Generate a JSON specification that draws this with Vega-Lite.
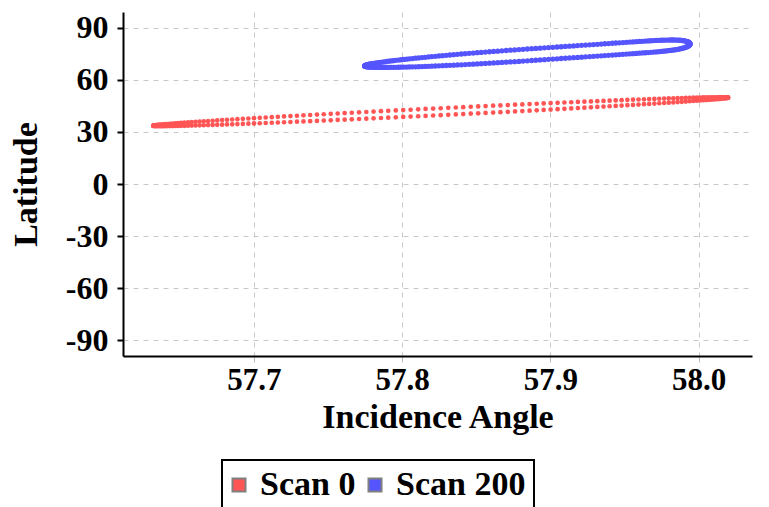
{
"$schema": "https://vega.github.io/schema/vega-lite/v6.json",
"width": 629, "height": 344,
"autosize": {"type": "none"},
"padding": {"left": 123, "top": 12, "right": 17, "bottom": 151},
"background": "white",
"config": {"view": {"stroke": null}, "font": "Liberation Serif"},
"data": {"values": [
{"scan":"Scan 0","x":58.0200,"y":49.80},{"scan":"Scan 0","x":57.6320,"y":33.60},
{"scan":"Scan 0","x":58.0199,"y":49.85},{"scan":"Scan 0","x":58.0199,"y":49.75},{"scan":"Scan 0","x":57.6321,"y":33.65},{"scan":"Scan 0","x":57.6321,"y":33.55},
{"scan":"Scan 0","x":58.0197,"y":49.89},{"scan":"Scan 0","x":58.0197,"y":49.69},{"scan":"Scan 0","x":57.6323,"y":33.71},{"scan":"Scan 0","x":57.6323,"y":33.51},
{"scan":"Scan 0","x":58.0194,"y":49.94},{"scan":"Scan 0","x":58.0194,"y":49.62},{"scan":"Scan 0","x":57.6326,"y":33.78},{"scan":"Scan 0","x":57.6326,"y":33.46},
{"scan":"Scan 0","x":58.0189,"y":49.97},{"scan":"Scan 0","x":58.0189,"y":49.55},{"scan":"Scan 0","x":57.6331,"y":33.85},{"scan":"Scan 0","x":57.6331,"y":33.43},
{"scan":"Scan 0","x":58.0183,"y":49.99},{"scan":"Scan 0","x":58.0183,"y":49.47},{"scan":"Scan 0","x":57.6337,"y":33.93},{"scan":"Scan 0","x":57.6337,"y":33.41},
{"scan":"Scan 0","x":58.0176,"y":50.01},{"scan":"Scan 0","x":58.0176,"y":49.39},{"scan":"Scan 0","x":57.6344,"y":34.01},{"scan":"Scan 0","x":57.6344,"y":33.39},
{"scan":"Scan 0","x":58.0168,"y":50.02},{"scan":"Scan 0","x":58.0168,"y":49.30},{"scan":"Scan 0","x":57.6352,"y":34.10},{"scan":"Scan 0","x":57.6352,"y":33.38},
{"scan":"Scan 0","x":58.0158,"y":50.04},{"scan":"Scan 0","x":58.0158,"y":49.20},{"scan":"Scan 0","x":57.6362,"y":34.20},{"scan":"Scan 0","x":57.6362,"y":33.36},
{"scan":"Scan 0","x":58.0146,"y":50.05},{"scan":"Scan 0","x":58.0146,"y":49.11},{"scan":"Scan 0","x":57.6374,"y":34.29},{"scan":"Scan 0","x":57.6374,"y":33.35},
{"scan":"Scan 0","x":58.0134,"y":50.04},{"scan":"Scan 0","x":58.0134,"y":49.00},{"scan":"Scan 0","x":57.6386,"y":34.40},{"scan":"Scan 0","x":57.6386,"y":33.36},
{"scan":"Scan 0","x":58.0120,"y":50.04},{"scan":"Scan 0","x":58.0120,"y":48.90},{"scan":"Scan 0","x":57.6400,"y":34.50},{"scan":"Scan 0","x":57.6400,"y":33.36},
{"scan":"Scan 0","x":58.0105,"y":50.02},{"scan":"Scan 0","x":58.0105,"y":48.78},{"scan":"Scan 0","x":57.6415,"y":34.62},{"scan":"Scan 0","x":57.6415,"y":33.38},
{"scan":"Scan 0","x":58.0089,"y":50.01},{"scan":"Scan 0","x":58.0089,"y":48.67},{"scan":"Scan 0","x":57.6431,"y":34.73},{"scan":"Scan 0","x":57.6431,"y":33.39},
{"scan":"Scan 0","x":58.0071,"y":49.98},{"scan":"Scan 0","x":58.0071,"y":48.54},{"scan":"Scan 0","x":57.6449,"y":34.86},{"scan":"Scan 0","x":57.6449,"y":33.42},
{"scan":"Scan 0","x":58.0052,"y":49.95},{"scan":"Scan 0","x":58.0052,"y":48.41},{"scan":"Scan 0","x":57.6468,"y":34.99},{"scan":"Scan 0","x":57.6468,"y":33.45},
{"scan":"Scan 0","x":58.0032,"y":49.91},{"scan":"Scan 0","x":58.0032,"y":48.29},{"scan":"Scan 0","x":57.6488,"y":35.11},{"scan":"Scan 0","x":57.6488,"y":33.49},
{"scan":"Scan 0","x":58.0011,"y":49.87},{"scan":"Scan 0","x":58.0011,"y":48.15},{"scan":"Scan 0","x":57.6509,"y":35.25},{"scan":"Scan 0","x":57.6509,"y":33.53},
{"scan":"Scan 0","x":57.9989,"y":49.83},{"scan":"Scan 0","x":57.9989,"y":48.01},{"scan":"Scan 0","x":57.6531,"y":35.39},{"scan":"Scan 0","x":57.6531,"y":33.57},
{"scan":"Scan 0","x":57.9965,"y":49.77},{"scan":"Scan 0","x":57.9965,"y":47.87},{"scan":"Scan 0","x":57.6555,"y":35.53},{"scan":"Scan 0","x":57.6555,"y":33.63},
{"scan":"Scan 0","x":57.9940,"y":49.71},{"scan":"Scan 0","x":57.9940,"y":47.71},{"scan":"Scan 0","x":57.6580,"y":35.69},{"scan":"Scan 0","x":57.6580,"y":33.69},
{"scan":"Scan 0","x":57.9914,"y":49.66},{"scan":"Scan 0","x":57.9914,"y":47.56},{"scan":"Scan 0","x":57.6606,"y":35.84},{"scan":"Scan 0","x":57.6606,"y":33.74},
{"scan":"Scan 0","x":57.9887,"y":49.58},{"scan":"Scan 0","x":57.9887,"y":47.40},{"scan":"Scan 0","x":57.6633,"y":36.00},{"scan":"Scan 0","x":57.6633,"y":33.82},
{"scan":"Scan 0","x":57.9859,"y":49.51},{"scan":"Scan 0","x":57.9859,"y":47.25},{"scan":"Scan 0","x":57.6661,"y":36.15},{"scan":"Scan 0","x":57.6661,"y":33.89},
{"scan":"Scan 0","x":57.9830,"y":49.43},{"scan":"Scan 0","x":57.9830,"y":47.07},{"scan":"Scan 0","x":57.6690,"y":36.33},{"scan":"Scan 0","x":57.6690,"y":33.97},
{"scan":"Scan 0","x":57.9799,"y":49.35},{"scan":"Scan 0","x":57.9799,"y":46.91},{"scan":"Scan 0","x":57.6721,"y":36.49},{"scan":"Scan 0","x":57.6721,"y":34.05},
{"scan":"Scan 0","x":57.9768,"y":49.25},{"scan":"Scan 0","x":57.9768,"y":46.73},{"scan":"Scan 0","x":57.6752,"y":36.67},{"scan":"Scan 0","x":57.6752,"y":34.15},
{"scan":"Scan 0","x":57.9735,"y":49.16},{"scan":"Scan 0","x":57.9735,"y":46.56},{"scan":"Scan 0","x":57.6785,"y":36.84},{"scan":"Scan 0","x":57.6785,"y":34.24},
{"scan":"Scan 0","x":57.9702,"y":49.06},{"scan":"Scan 0","x":57.9702,"y":46.38},{"scan":"Scan 0","x":57.6818,"y":37.02},{"scan":"Scan 0","x":57.6818,"y":34.34},
{"scan":"Scan 0","x":57.9667,"y":48.96},{"scan":"Scan 0","x":57.9667,"y":46.20},{"scan":"Scan 0","x":57.6853,"y":37.20},{"scan":"Scan 0","x":57.6853,"y":34.44},
{"scan":"Scan 0","x":57.9632,"y":48.84},{"scan":"Scan 0","x":57.9632,"y":46.02},{"scan":"Scan 0","x":57.6888,"y":37.38},{"scan":"Scan 0","x":57.6888,"y":34.56},
{"scan":"Scan 0","x":57.9595,"y":48.73},{"scan":"Scan 0","x":57.9595,"y":45.83},{"scan":"Scan 0","x":57.6925,"y":37.57},{"scan":"Scan 0","x":57.6925,"y":34.67},
{"scan":"Scan 0","x":57.9558,"y":48.61},{"scan":"Scan 0","x":57.9558,"y":45.63},{"scan":"Scan 0","x":57.6962,"y":37.77},{"scan":"Scan 0","x":57.6962,"y":34.79},
{"scan":"Scan 0","x":57.9520,"y":48.48},{"scan":"Scan 0","x":57.9520,"y":45.44},{"scan":"Scan 0","x":57.7000,"y":37.96},{"scan":"Scan 0","x":57.7000,"y":34.92},
{"scan":"Scan 0","x":57.9481,"y":48.35},{"scan":"Scan 0","x":57.9481,"y":45.25},{"scan":"Scan 0","x":57.7039,"y":38.15},{"scan":"Scan 0","x":57.7039,"y":35.05},
{"scan":"Scan 0","x":57.9441,"y":48.22},{"scan":"Scan 0","x":57.9441,"y":45.04},{"scan":"Scan 0","x":57.7079,"y":38.36},{"scan":"Scan 0","x":57.7079,"y":35.18},
{"scan":"Scan 0","x":57.9400,"y":48.08},{"scan":"Scan 0","x":57.9400,"y":44.84},{"scan":"Scan 0","x":57.7120,"y":38.56},{"scan":"Scan 0","x":57.7120,"y":35.32},
{"scan":"Scan 0","x":57.9359,"y":47.94},{"scan":"Scan 0","x":57.9359,"y":44.64},{"scan":"Scan 0","x":57.7161,"y":38.76},{"scan":"Scan 0","x":57.7161,"y":35.46},
{"scan":"Scan 0","x":57.9317,"y":47.79},{"scan":"Scan 0","x":57.9317,"y":44.43},{"scan":"Scan 0","x":57.7203,"y":38.97},{"scan":"Scan 0","x":57.7203,"y":35.61},
{"scan":"Scan 0","x":57.9274,"y":47.64},{"scan":"Scan 0","x":57.9274,"y":44.22},{"scan":"Scan 0","x":57.7246,"y":39.18},{"scan":"Scan 0","x":57.7246,"y":35.76},
{"scan":"Scan 0","x":57.9230,"y":47.48},{"scan":"Scan 0","x":57.9230,"y":44.02},{"scan":"Scan 0","x":57.7290,"y":39.38},{"scan":"Scan 0","x":57.7290,"y":35.92},
{"scan":"Scan 0","x":57.9186,"y":47.33},{"scan":"Scan 0","x":57.9186,"y":43.81},{"scan":"Scan 0","x":57.7334,"y":39.59},{"scan":"Scan 0","x":57.7334,"y":36.07},
{"scan":"Scan 0","x":57.9141,"y":47.16},{"scan":"Scan 0","x":57.9141,"y":43.60},{"scan":"Scan 0","x":57.7379,"y":39.80},{"scan":"Scan 0","x":57.7379,"y":36.24},
{"scan":"Scan 0","x":57.9095,"y":47.00},{"scan":"Scan 0","x":57.9095,"y":43.38},{"scan":"Scan 0","x":57.7425,"y":40.02},{"scan":"Scan 0","x":57.7425,"y":36.40},
{"scan":"Scan 0","x":57.9049,"y":46.82},{"scan":"Scan 0","x":57.9049,"y":43.16},{"scan":"Scan 0","x":57.7471,"y":40.24},{"scan":"Scan 0","x":57.7471,"y":36.58},
{"scan":"Scan 0","x":57.9002,"y":46.65},{"scan":"Scan 0","x":57.9002,"y":42.95},{"scan":"Scan 0","x":57.7518,"y":40.45},{"scan":"Scan 0","x":57.7518,"y":36.75},
{"scan":"Scan 0","x":57.8955,"y":46.47},{"scan":"Scan 0","x":57.8955,"y":42.73},{"scan":"Scan 0","x":57.7565,"y":40.67},{"scan":"Scan 0","x":57.7565,"y":36.93},
{"scan":"Scan 0","x":57.8908,"y":46.29},{"scan":"Scan 0","x":57.8908,"y":42.51},{"scan":"Scan 0","x":57.7612,"y":40.89},{"scan":"Scan 0","x":57.7612,"y":37.11},
{"scan":"Scan 0","x":57.8860,"y":46.10},{"scan":"Scan 0","x":57.8860,"y":42.30},{"scan":"Scan 0","x":57.7660,"y":41.10},{"scan":"Scan 0","x":57.7660,"y":37.30},
{"scan":"Scan 0","x":57.8811,"y":45.92},{"scan":"Scan 0","x":57.8811,"y":42.08},{"scan":"Scan 0","x":57.7709,"y":41.32},{"scan":"Scan 0","x":57.7709,"y":37.48},
{"scan":"Scan 0","x":57.8762,"y":45.73},{"scan":"Scan 0","x":57.8762,"y":41.87},{"scan":"Scan 0","x":57.7758,"y":41.53},{"scan":"Scan 0","x":57.7758,"y":37.67},
{"scan":"Scan 0","x":57.8713,"y":45.53},{"scan":"Scan 0","x":57.8713,"y":41.65},{"scan":"Scan 0","x":57.7807,"y":41.75},{"scan":"Scan 0","x":57.7807,"y":37.87},
{"scan":"Scan 0","x":57.8663,"y":45.34},{"scan":"Scan 0","x":57.8663,"y":41.42},{"scan":"Scan 0","x":57.7857,"y":41.98},{"scan":"Scan 0","x":57.7857,"y":38.06},
{"scan":"Scan 0","x":57.8614,"y":45.15},{"scan":"Scan 0","x":57.8614,"y":41.21},{"scan":"Scan 0","x":57.7906,"y":42.19},{"scan":"Scan 0","x":57.7906,"y":38.25},
{"scan":"Scan 0","x":57.8563,"y":44.95},{"scan":"Scan 0","x":57.8563,"y":40.99},{"scan":"Scan 0","x":57.7957,"y":42.41},{"scan":"Scan 0","x":57.7957,"y":38.45},
{"scan":"Scan 0","x":57.8513,"y":44.74},{"scan":"Scan 0","x":57.8513,"y":40.78},{"scan":"Scan 0","x":57.8007,"y":42.62},{"scan":"Scan 0","x":57.8007,"y":38.66},
{"scan":"Scan 0","x":57.8463,"y":44.54},{"scan":"Scan 0","x":57.8463,"y":40.56},{"scan":"Scan 0","x":57.8057,"y":42.84},{"scan":"Scan 0","x":57.8057,"y":38.86},
{"scan":"Scan 0","x":57.8412,"y":44.33},{"scan":"Scan 0","x":57.8412,"y":40.35},{"scan":"Scan 0","x":57.8108,"y":43.05},{"scan":"Scan 0","x":57.8108,"y":39.07},
{"scan":"Scan 0","x":57.8362,"y":44.12},{"scan":"Scan 0","x":57.8362,"y":40.12},{"scan":"Scan 0","x":57.8158,"y":43.28},{"scan":"Scan 0","x":57.8158,"y":39.28},
{"scan":"Scan 0","x":57.8311,"y":43.91},{"scan":"Scan 0","x":57.8311,"y":39.91},{"scan":"Scan 0","x":57.8209,"y":43.49},{"scan":"Scan 0","x":57.8209,"y":39.49},
{"scan":"Scan 0","x":57.8260,"y":43.70},{"scan":"Scan 0","x":57.8260,"y":39.70},
{"scan":"Scan 200","x":57.9942,"y":80.80},{"scan":"Scan 200","x":57.7748,"y":68.10},
{"scan":"Scan 200","x":57.9942,"y":81.02},{"scan":"Scan 200","x":57.9942,"y":80.58},{"scan":"Scan 200","x":57.7748,"y":68.19},{"scan":"Scan 200","x":57.7748,"y":68.01},
{"scan":"Scan 200","x":57.9941,"y":81.22},{"scan":"Scan 200","x":57.9941,"y":80.36},{"scan":"Scan 200","x":57.7749,"y":68.29},{"scan":"Scan 200","x":57.7749,"y":67.93},
{"scan":"Scan 200","x":57.9939,"y":81.43},{"scan":"Scan 200","x":57.9939,"y":80.13},{"scan":"Scan 200","x":57.7751,"y":68.39},{"scan":"Scan 200","x":57.7751,"y":67.85},
{"scan":"Scan 200","x":57.9936,"y":81.63},{"scan":"Scan 200","x":57.9936,"y":79.91},{"scan":"Scan 200","x":57.7754,"y":68.49},{"scan":"Scan 200","x":57.7754,"y":67.77},
{"scan":"Scan 200","x":57.9933,"y":81.81},{"scan":"Scan 200","x":57.9933,"y":79.69},{"scan":"Scan 200","x":57.7757,"y":68.59},{"scan":"Scan 200","x":57.7757,"y":67.71},
{"scan":"Scan 200","x":57.9928,"y":81.98},{"scan":"Scan 200","x":57.9928,"y":79.46},{"scan":"Scan 200","x":57.7762,"y":68.71},{"scan":"Scan 200","x":57.7762,"y":67.65},
{"scan":"Scan 200","x":57.9924,"y":82.15},{"scan":"Scan 200","x":57.9924,"y":79.23},{"scan":"Scan 200","x":57.7766,"y":68.83},{"scan":"Scan 200","x":57.7766,"y":67.59},
{"scan":"Scan 200","x":57.9918,"y":82.30},{"scan":"Scan 200","x":57.9918,"y":79.02},{"scan":"Scan 200","x":57.7772,"y":68.95},{"scan":"Scan 200","x":57.7772,"y":67.53},
{"scan":"Scan 200","x":57.9912,"y":82.44},{"scan":"Scan 200","x":57.9912,"y":78.80},{"scan":"Scan 200","x":57.7778,"y":69.07},{"scan":"Scan 200","x":57.7778,"y":67.49},
{"scan":"Scan 200","x":57.9905,"y":82.56},{"scan":"Scan 200","x":57.9905,"y":78.60},{"scan":"Scan 200","x":57.7785,"y":69.20},{"scan":"Scan 200","x":57.7785,"y":67.44},
{"scan":"Scan 200","x":57.9897,"y":82.68},{"scan":"Scan 200","x":57.9897,"y":78.40},{"scan":"Scan 200","x":57.7793,"y":69.33},{"scan":"Scan 200","x":57.7793,"y":67.39},
{"scan":"Scan 200","x":57.9888,"y":82.78},{"scan":"Scan 200","x":57.9888,"y":78.20},{"scan":"Scan 200","x":57.7802,"y":69.46},{"scan":"Scan 200","x":57.7802,"y":67.36},
{"scan":"Scan 200","x":57.9879,"y":82.86},{"scan":"Scan 200","x":57.9879,"y":78.02},{"scan":"Scan 200","x":57.7811,"y":69.59},{"scan":"Scan 200","x":57.7811,"y":67.33},
{"scan":"Scan 200","x":57.9869,"y":82.93},{"scan":"Scan 200","x":57.9869,"y":77.83},{"scan":"Scan 200","x":57.7821,"y":69.74},{"scan":"Scan 200","x":57.7821,"y":67.30},
{"scan":"Scan 200","x":57.9859,"y":82.98},{"scan":"Scan 200","x":57.9859,"y":77.66},{"scan":"Scan 200","x":57.7831,"y":69.88},{"scan":"Scan 200","x":57.7831,"y":67.28},
{"scan":"Scan 200","x":57.9847,"y":83.02},{"scan":"Scan 200","x":57.9847,"y":77.48},{"scan":"Scan 200","x":57.7843,"y":70.03},{"scan":"Scan 200","x":57.7843,"y":67.27},
{"scan":"Scan 200","x":57.9835,"y":83.04},{"scan":"Scan 200","x":57.9835,"y":77.32},{"scan":"Scan 200","x":57.7855,"y":70.18},{"scan":"Scan 200","x":57.7855,"y":67.26},
{"scan":"Scan 200","x":57.9822,"y":83.05},{"scan":"Scan 200","x":57.9822,"y":77.17},{"scan":"Scan 200","x":57.7868,"y":70.33},{"scan":"Scan 200","x":57.7868,"y":67.25},
{"scan":"Scan 200","x":57.9809,"y":83.05},{"scan":"Scan 200","x":57.9809,"y":77.01},{"scan":"Scan 200","x":57.7881,"y":70.49},{"scan":"Scan 200","x":57.7881,"y":67.25},
{"scan":"Scan 200","x":57.9795,"y":83.03},{"scan":"Scan 200","x":57.9795,"y":76.87},{"scan":"Scan 200","x":57.7895,"y":70.65},{"scan":"Scan 200","x":57.7895,"y":67.25},
{"scan":"Scan 200","x":57.9780,"y":83.00},{"scan":"Scan 200","x":57.9780,"y":76.72},{"scan":"Scan 200","x":57.7910,"y":70.82},{"scan":"Scan 200","x":57.7910,"y":67.26},
{"scan":"Scan 200","x":57.9765,"y":82.97},{"scan":"Scan 200","x":57.9765,"y":76.59},{"scan":"Scan 200","x":57.7925,"y":70.97},{"scan":"Scan 200","x":57.7925,"y":67.27},
{"scan":"Scan 200","x":57.9749,"y":82.91},{"scan":"Scan 200","x":57.9749,"y":76.45},{"scan":"Scan 200","x":57.7941,"y":71.15},{"scan":"Scan 200","x":57.7941,"y":67.29},
{"scan":"Scan 200","x":57.9733,"y":82.85},{"scan":"Scan 200","x":57.9733,"y":76.33},{"scan":"Scan 200","x":57.7957,"y":71.31},{"scan":"Scan 200","x":57.7957,"y":67.31},
{"scan":"Scan 200","x":57.9715,"y":82.78},{"scan":"Scan 200","x":57.9715,"y":76.20},{"scan":"Scan 200","x":57.7975,"y":71.48},{"scan":"Scan 200","x":57.7975,"y":67.34},
{"scan":"Scan 200","x":57.9698,"y":82.70},{"scan":"Scan 200","x":57.9698,"y":76.06},{"scan":"Scan 200","x":57.7992,"y":71.66},{"scan":"Scan 200","x":57.7992,"y":67.38},
{"scan":"Scan 200","x":57.9679,"y":82.62},{"scan":"Scan 200","x":57.9679,"y":75.94},{"scan":"Scan 200","x":57.8011,"y":71.83},{"scan":"Scan 200","x":57.8011,"y":67.41},
{"scan":"Scan 200","x":57.9660,"y":82.52},{"scan":"Scan 200","x":57.9660,"y":75.82},{"scan":"Scan 200","x":57.8030,"y":72.01},{"scan":"Scan 200","x":57.8030,"y":67.45},
{"scan":"Scan 200","x":57.9641,"y":82.42},{"scan":"Scan 200","x":57.9641,"y":75.70},{"scan":"Scan 200","x":57.8049,"y":72.18},{"scan":"Scan 200","x":57.8049,"y":67.50},
{"scan":"Scan 200","x":57.9621,"y":82.31},{"scan":"Scan 200","x":57.9621,"y":75.57},{"scan":"Scan 200","x":57.8069,"y":72.36},{"scan":"Scan 200","x":57.8069,"y":67.56},
{"scan":"Scan 200","x":57.9600,"y":82.20},{"scan":"Scan 200","x":57.9600,"y":75.44},{"scan":"Scan 200","x":57.8090,"y":72.55},{"scan":"Scan 200","x":57.8090,"y":67.61},
{"scan":"Scan 200","x":57.9579,"y":82.09},{"scan":"Scan 200","x":57.9579,"y":75.31},{"scan":"Scan 200","x":57.8111,"y":72.73},{"scan":"Scan 200","x":57.8111,"y":67.67},
{"scan":"Scan 200","x":57.9557,"y":81.96},{"scan":"Scan 200","x":57.9557,"y":75.18},{"scan":"Scan 200","x":57.8133,"y":72.92},{"scan":"Scan 200","x":57.8133,"y":67.74},
{"scan":"Scan 200","x":57.9535,"y":81.84},{"scan":"Scan 200","x":57.9535,"y":75.06},{"scan":"Scan 200","x":57.8155,"y":73.09},{"scan":"Scan 200","x":57.8155,"y":67.81},
{"scan":"Scan 200","x":57.9513,"y":81.72},{"scan":"Scan 200","x":57.9513,"y":74.92},{"scan":"Scan 200","x":57.8177,"y":73.28},{"scan":"Scan 200","x":57.8177,"y":67.88},
{"scan":"Scan 200","x":57.9490,"y":81.58},{"scan":"Scan 200","x":57.9490,"y":74.78},{"scan":"Scan 200","x":57.8200,"y":73.47},{"scan":"Scan 200","x":57.8200,"y":67.97},
{"scan":"Scan 200","x":57.9466,"y":81.45},{"scan":"Scan 200","x":57.9466,"y":74.65},{"scan":"Scan 200","x":57.8224,"y":73.65},{"scan":"Scan 200","x":57.8224,"y":68.05},
{"scan":"Scan 200","x":57.9442,"y":81.31},{"scan":"Scan 200","x":57.9442,"y":74.51},{"scan":"Scan 200","x":57.8248,"y":73.84},{"scan":"Scan 200","x":57.8248,"y":68.14},
{"scan":"Scan 200","x":57.9418,"y":81.17},{"scan":"Scan 200","x":57.9418,"y":74.37},{"scan":"Scan 200","x":57.8272,"y":74.03},{"scan":"Scan 200","x":57.8272,"y":68.23},
{"scan":"Scan 200","x":57.9393,"y":81.02},{"scan":"Scan 200","x":57.9393,"y":74.22},{"scan":"Scan 200","x":57.8297,"y":74.22},{"scan":"Scan 200","x":57.8297,"y":68.34},
{"scan":"Scan 200","x":57.9368,"y":80.88},{"scan":"Scan 200","x":57.9368,"y":74.08},{"scan":"Scan 200","x":57.8322,"y":74.41},{"scan":"Scan 200","x":57.8322,"y":68.43},
{"scan":"Scan 200","x":57.9343,"y":80.73},{"scan":"Scan 200","x":57.9343,"y":73.93},{"scan":"Scan 200","x":57.8347,"y":74.60},{"scan":"Scan 200","x":57.8347,"y":68.54},
{"scan":"Scan 200","x":57.9317,"y":80.58},{"scan":"Scan 200","x":57.9317,"y":73.78},{"scan":"Scan 200","x":57.8373,"y":74.79},{"scan":"Scan 200","x":57.8373,"y":68.65},
{"scan":"Scan 200","x":57.9291,"y":80.43},{"scan":"Scan 200","x":57.9291,"y":73.63},{"scan":"Scan 200","x":57.8399,"y":74.98},{"scan":"Scan 200","x":57.8399,"y":68.76},
{"scan":"Scan 200","x":57.9265,"y":80.28},{"scan":"Scan 200","x":57.9265,"y":73.48},{"scan":"Scan 200","x":57.8425,"y":75.16},{"scan":"Scan 200","x":57.8425,"y":68.88},
{"scan":"Scan 200","x":57.9238,"y":80.13},{"scan":"Scan 200","x":57.9238,"y":73.33},{"scan":"Scan 200","x":57.8452,"y":75.34},{"scan":"Scan 200","x":57.8452,"y":69.00},
{"scan":"Scan 200","x":57.9211,"y":79.97},{"scan":"Scan 200","x":57.9211,"y":73.17},{"scan":"Scan 200","x":57.8479,"y":75.54},{"scan":"Scan 200","x":57.8479,"y":69.12},
{"scan":"Scan 200","x":57.9184,"y":79.81},{"scan":"Scan 200","x":57.9184,"y":73.01},{"scan":"Scan 200","x":57.8506,"y":75.72},{"scan":"Scan 200","x":57.8506,"y":69.26},
{"scan":"Scan 200","x":57.9157,"y":79.65},{"scan":"Scan 200","x":57.9157,"y":72.85},{"scan":"Scan 200","x":57.8533,"y":75.91},{"scan":"Scan 200","x":57.8533,"y":69.39},
{"scan":"Scan 200","x":57.9129,"y":79.49},{"scan":"Scan 200","x":57.9129,"y":72.69},{"scan":"Scan 200","x":57.8561,"y":76.09},{"scan":"Scan 200","x":57.8561,"y":69.53},
{"scan":"Scan 200","x":57.9101,"y":79.33},{"scan":"Scan 200","x":57.9101,"y":72.53},{"scan":"Scan 200","x":57.8589,"y":76.28},{"scan":"Scan 200","x":57.8589,"y":69.66},
{"scan":"Scan 200","x":57.9073,"y":79.17},{"scan":"Scan 200","x":57.9073,"y":72.37},{"scan":"Scan 200","x":57.8617,"y":76.46},{"scan":"Scan 200","x":57.8617,"y":69.80},
{"scan":"Scan 200","x":57.9045,"y":79.01},{"scan":"Scan 200","x":57.9045,"y":72.21},{"scan":"Scan 200","x":57.8645,"y":76.63},{"scan":"Scan 200","x":57.8645,"y":69.95},
{"scan":"Scan 200","x":57.9017,"y":78.84},{"scan":"Scan 200","x":57.9017,"y":72.04},{"scan":"Scan 200","x":57.8673,"y":76.82},{"scan":"Scan 200","x":57.8673,"y":70.10},
{"scan":"Scan 200","x":57.8988,"y":78.68},{"scan":"Scan 200","x":57.8988,"y":71.88},{"scan":"Scan 200","x":57.8702,"y":76.99},{"scan":"Scan 200","x":57.8702,"y":70.25},
{"scan":"Scan 200","x":57.8960,"y":78.51},{"scan":"Scan 200","x":57.8960,"y":71.71},{"scan":"Scan 200","x":57.8730,"y":77.17},{"scan":"Scan 200","x":57.8730,"y":70.41},
{"scan":"Scan 200","x":57.8931,"y":78.35},{"scan":"Scan 200","x":57.8931,"y":71.55},{"scan":"Scan 200","x":57.8759,"y":77.34},{"scan":"Scan 200","x":57.8759,"y":70.56},
{"scan":"Scan 200","x":57.8902,"y":78.18},{"scan":"Scan 200","x":57.8902,"y":71.38},{"scan":"Scan 200","x":57.8788,"y":77.52},{"scan":"Scan 200","x":57.8788,"y":70.72},
{"scan":"Scan 200","x":57.8874,"y":78.02},{"scan":"Scan 200","x":57.8874,"y":71.22},{"scan":"Scan 200","x":57.8816,"y":77.68},{"scan":"Scan 200","x":57.8816,"y":70.88},
{"scan":"Scan 200","x":57.8845,"y":77.85},{"scan":"Scan 200","x":57.8845,"y":71.05}
]},
"encoding": {
 "x": {"field": "x", "type": "quantitative",
  "scale": {"domain": [57.6116, 58.0361], "nice": false, "zero": false},
  "axis": {"title": "Incidence Angle", "values": [57.7, 57.8, 57.9, 58.0], "format": ".1f",
   "domainColor": "black", "domainWidth": 2, "tickColor": "#bbbbbb", "tickSize": 6,
   "labelFont": "Liberation Serif", "labelFontSize": 31, "labelFontWeight": "bold", "labelColor": "black", "labelPadding": 3, "labelFlush": false,
   "titleFont": "Liberation Serif", "titleFontSize": 34, "titleFontWeight": "bold", "titleColor": "black", "titlePadding": 5,
   "grid": true, "gridColor": "#c8c8c8", "gridDash": [5, 5], "gridWidth": 1}},
 "y": {"field": "y", "type": "quantitative",
  "scale": {"domain": [-99.2, 99.2], "nice": false, "zero": false},
  "axis": {"title": "Latitude", "values": [-90, -60, -30, 0, 30, 60, 90], "labelExpr": "datum.value + ''",
   "domainColor": "black", "domainWidth": 2, "tickColor": "black", "tickSize": 6, "tickWidth": 2,
   "labelFont": "Liberation Serif", "labelFontSize": 32, "labelFontWeight": "bold", "labelColor": "black", "labelPadding": 9, "labelFlush": false,
   "titleFont": "Liberation Serif", "titleFontSize": 34, "titleFontWeight": "bold", "titleColor": "black", "titlePadding": 22,
   "grid": true, "gridColor": "#c8c8c8", "gridDash": [5, 5], "gridWidth": 1}},
 "color": {"field": "scan", "type": "nominal",
  "scale": {"domain": ["Scan 0", "Scan 200"], "range": ["#ff5555", "#5555ff"]},
  "legend": {"orient": "none", "legendX": 99, "legendY": 448, "direction": "horizontal", "title": null,
   "symbolType": "square", "symbolSize": 170, "symbolStrokeColor": "#808080", "symbolStrokeWidth": 2, "symbolOpacity": 1, "symbolOffset": -8,
   "labelFont": "Liberation Serif", "labelFontSize": 34, "labelFontWeight": "bold", "labelColor": "black", "labelOffset": 4,
   "columnPadding": 8, "padding": 8, "strokeColor": "black",
   "encode": {"legend": {"update": {"strokeWidth": {"value": 2}}}}}}
},
"layer": [
 {"transform": [{"filter": "datum.scan == 'Scan 0'"}], "mark": {"type": "point", "filled": true, "opacity": 1, "size": 22}},
 {"transform": [{"filter": "datum.scan == 'Scan 200'"}], "mark": {"type": "point", "filled": true, "opacity": 1, "size": 28}}
]
}
